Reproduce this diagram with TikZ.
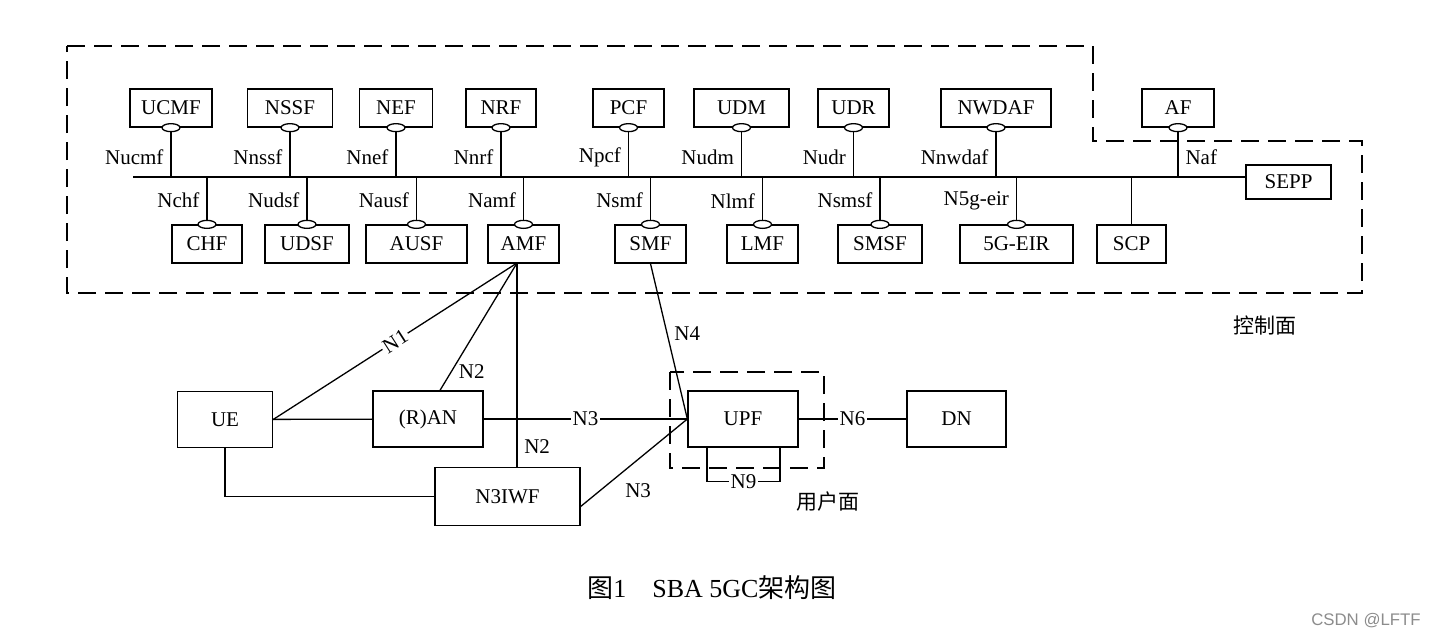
\documentclass[tikz,border=0pt]{standalone}
\usepackage{fontspec}
\setmainfont{Liberation Serif}
\newfontfamily\cjk{Noto Sans CJK SC}
\newfontfamily\wmfont{Liberation Sans}
\usetikzlibrary{shapes.geometric}

\begin{document}
\begin{tikzpicture}[x=0.5pt,y=-0.5pt,
  every node/.style={font=\fontsize{10.5}{12}\selectfont},
  nfbox/.style={draw,line width=0.65pt,fill=white,inner sep=0pt,minimum height=19pt,minimum width=#1},
  anbox/.style={draw,line width=0.65pt,inner sep=0pt,minimum height=28pt,minimum width=#1},
  port/.style={draw,line width=0.65pt,fill=white,ellipse,inner sep=0pt,minimum width=9pt,minimum height=4pt},
  plane/.style={line width=1.3pt,dash pattern=on 9pt off 4.5pt},
  bus/.style={line width=0.9pt},
  link/.style={line width=0.65pt},
  lab/.style={fill=white,inner sep=1pt}]
\useasboundingbox (0,0) rectangle (1436,639);

\draw[plane] (67,46) -- (1093,46) -- (1093,141) -- (1362,141) -- (1362,293) -- (67,293) -- cycle;

\node[nfbox=41pt] (ucmf) at (171,108) {UCMF};
\node[nfbox=42.5pt] (nssf) at (290,108) {NSSF};
\node[nfbox=36.5pt] (nef) at (396,108) {NEF};
\node[nfbox=35pt] (nrf) at (501,108) {NRF};
\node[nfbox=35.5pt] (pcf) at (628.5,108) {PCF};
\node[nfbox=47.5pt] (udm) at (741.5,108) {UDM};
\node[nfbox=35.5pt] (udr) at (853.5,108) {UDR};
\node[nfbox=55pt] (nwdaf) at (996,108) {NWDAF};
\node[nfbox=36pt] (af) at (1178,108) {AF};

\node[nfbox=35pt] (chf) at (207,244) {CHF};
\node[nfbox=42pt] (udsf) at (307,244) {UDSF};
\node[nfbox=50.5pt] (ausf) at (416.5,244) {AUSF};
\node[nfbox=35.5pt] (amf) at (523.5,244) {AMF};
\node[nfbox=35.5pt] (smf) at (650.5,244) {SMF};
\node[nfbox=35.5pt] (lmf) at (762.5,244) {LMF};
\node[nfbox=42pt] (smsf) at (880,244) {SMSF};
\node[nfbox=56.5pt] (eir) at (1016.5,244) {5G-EIR};
\node[nfbox=34.5pt] (scp) at (1131.5,244) {SCP};
\node[nfbox=42.5pt,minimum height=17pt] (sepp) at (1288.5,182) {SEPP};

\coordinate (busw) at (133,177);
\draw[bus] (busw) -- (sepp.west |- busw);

\draw[bus] (ucmf.south) node[port] (ucmfp) {} -- node[pos=0.6,left] {Nucmf} (ucmf.south |- busw);
\draw[bus] (nssf.south) node[port] (nssfp) {} -- node[pos=0.6,left] {Nnssf} (nssf.south |- busw);
\draw[bus] (nef.south) node[port] (nefp) {} -- node[pos=0.6,left] {Nnef} (nef.south |- busw);
\draw[bus] (nrf.south) node[port] (nrfp) {} -- node[pos=0.6,left] {Nnrf} (nrf.south |- busw);
\draw[bus] (pcf.south) node[port] (pcfp) {} -- node[pos=0.6,left] {Npcf} (pcf.south |- busw);
\draw[bus] (udm.south) node[port] (udmp) {} -- node[pos=0.6,left] {Nudm} (udm.south |- busw);
\draw[bus] (udr.south) node[port] (udrp) {} -- node[pos=0.6,left] {Nudr} (udr.south |- busw);
\draw[bus] (nwdaf.south) node[port] (nwdafp) {} -- node[pos=0.6,left] {Nnwdaf} (nwdaf.south |- busw);
\draw[bus] (af.south) node[port] (afp) {} -- node[pos=0.6,right] {Naf} (af.south |- busw);

\draw[bus] (chf.north) node[port] (chfp) {} -- node[midway,left] {Nchf} (chf.north |- busw);
\draw[bus] (udsf.north) node[port] (udsfp) {} -- node[midway,left] {Nudsf} (udsf.north |- busw);
\draw[bus] (ausf.north) node[port] (ausfp) {} -- node[midway,left] {Nausf} (ausf.north |- busw);
\draw[bus] (amf.north) node[port] (amfp) {} -- node[midway,left] {Namf} (amf.north |- busw);
\draw[bus] (smf.north) node[port] (smfp) {} -- node[midway,left] {Nsmf} (smf.north |- busw);
\draw[bus] (lmf.north) node[port] (lmfp) {} -- node[midway,left] {Nlmf} (lmf.north |- busw);
\draw[bus] (smsf.north) node[port] (smsfp) {} -- node[midway,left] {Nsmsf} (smsf.north |- busw);
\draw[bus] (eir.north) node[port] (eirp) {} -- node[midway,left] {N5g-eir} (eir.north |- busw);
\draw[bus] (scp.north) -- (scp.north |- busw);

\node at (1265,325) (cp) {\cjk 控制面};

\node[anbox=47.5pt] (ue) at (225,419.5) {UE};
\node[anbox=55pt] (ran) at (428,419) {(R)AN};
\node[anbox=72.5pt,minimum height=29pt] (n3iwf) at (507.5,496.5) {N3IWF};
\node[anbox=55pt] (upf) at (743,419) {UPF};
\node[anbox=49.5pt] (dn) at (956.5,419) {DN};
\draw[plane] (670,372) rectangle (824,468);
\node at (828,502) (up) {\cjk 用户面};

\coordinate (amfb) at (517,263);
\draw[link] (amfb) -- node[midway,sloped,lab] {N1} (ue.east);
\draw[link] (amfb) -- node[pos=0.85,right] {N2} ([xshift=6pt]ran.north);
\draw[link] (amfb) -- node[pos=0.9,right] {N2} (amfb |- n3iwf.north);
\draw[link] (ue) -- (ran);
\draw[link] (ue.south) |- (n3iwf.west);
\draw[link] (ran.east) -- node[midway,lab] {N3} (upf.west);
\draw[link] ([yshift=-5pt]n3iwf.east) -- node[pos=0.35,below right] {N3} (upf.west);
\draw[link] (smf.south) -- node[pos=0.45,right] {N4} (upf.west);
\draw[link] (upf.east) -- node[midway,lab] {N6} (dn.west);
\draw[link] ([xshift=-18pt]upf.south) -- ++(0,34) -| node[pos=0.25,lab] {N9} ([xshift=18.5pt]upf.south);

\node at (712,588) (cap) {\fontsize{13}{15}\selectfont{\cjk 图}1\quad SBA 5GC{\cjk 架构图}};
\node[text=black!45] at (1366,621) (wm) {\wmfont\fontsize{8.4}{10}\selectfont CSDN @LFTF};
\end{tikzpicture}
\end{document}
